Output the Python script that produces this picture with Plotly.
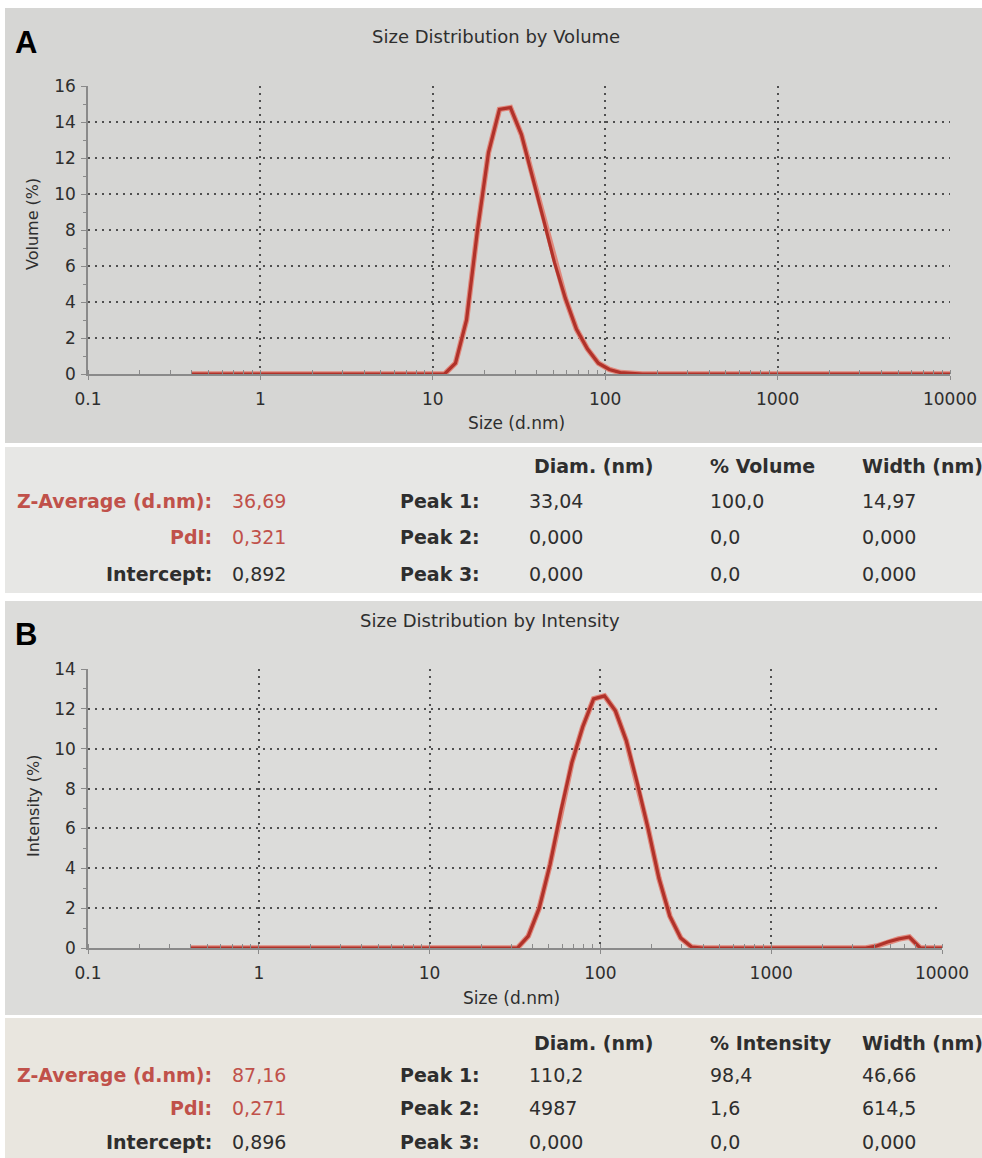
# DLS size distribution printouts (A: by volume, B: by intensity)

import plotly.graph_objects as go

W, H = 982, 1158

# ---------- data ----------
size_a = [0.4, 10.1, 11.7, 13.54, 15.69, 18.17, 21.04, 24.36, 28.21, 32.67, 37.84,
          43.82, 50.75, 58.77, 68.06, 78.82, 91.28, 105.7, 122.4, 141.8, 164.2, 10000]
volume_a = [0, 0, 0, 0.6, 3.0, 8.0, 12.3, 14.7, 14.8, 13.3, 11.0,
            8.6, 6.2, 4.2, 2.5, 1.4, 0.6, 0.25, 0.08, 0.02, 0, 0]

size_b = [0.4, 32.67, 37.84, 43.82, 50.75, 58.77, 68.06, 78.82, 91.28, 105.7, 122.4,
          141.8, 164.2, 190.1, 220.2, 255.0, 295.3, 342.0, 396.1, 3580, 4145, 4801,
          5560, 6439, 7456, 10000]
intensity_b = [0, 0, 0.6, 2.0, 4.2, 6.9, 9.3, 11.1, 12.5, 12.65, 11.9,
               10.4, 8.3, 6.0, 3.5, 1.6, 0.5, 0.05, 0, 0, 0.1, 0.3,
               0.45, 0.55, 0, 0]

x_tickvals = [0.1, 1, 10, 100, 1000, 10000]
x_ticktext = ["0.1", "1", "10", "100", "1000", "10000"]

summary_labels = ["Z-Average (d.nm):", "PdI:", "Intercept:"]
summary_a = ["36,69", "0,321", "0,892"]
summary_b = ["87,16", "0,271", "0,896"]

peak_labels = ["Peak 1:", "Peak 2:", "Peak 3:"]
headers_a = ["Diam. (nm)", "% Volume", "Width (nm)"]
headers_b = ["Diam. (nm)", "% Intensity", "Width (nm)"]
diam_a = ["33,04", "0,000", "0,000"]
pct_a = ["100,0", "0,0", "0,0"]
width_a = ["14,97", "0,000", "0,000"]
diam_b = ["110,2", "4987", "0,000"]
pct_b = ["98,4", "1,6", "0,0"]
width_b = ["46,66", "614,5", "0,000"]

# ---------- styling ----------
FONT = "DejaVu Sans"
RED_TXT = "#c0514a"
DARK = "#2e2e2e"
LINE_RED = "#b0322a"
HALO = "#e0887c"
GRID = "#4f4f4f"


def fx(x):
    return x / W


def fy(y):
    return 1 - y / H


fig = go.Figure()

# curves (light halo + main line, like the printed trace)
for xs, ys, xa, ya in [(size_a, volume_a, "x", "y"), (size_b, intensity_b, "x2", "y2")]:
    fig.add_trace(go.Scatter(x=xs, y=ys, mode="lines", xaxis=xa, yaxis=ya,
                             line=dict(color=HALO, width=5.5), hoverinfo="skip",
                             showlegend=False))
    fig.add_trace(go.Scatter(x=xs, y=ys, mode="lines", xaxis=xa, yaxis=ya,
                             line=dict(color=LINE_RED, width=3.2),
                             showlegend=False))

xcommon = dict(
    type="log", range=[-1, 4], tickvals=x_tickvals, ticktext=x_ticktext,
    showgrid=True, gridcolor=GRID, griddash="2px,5px", gridwidth=1.5,
    showline=True, linecolor="#8a8a8a", linewidth=1.5, zeroline=False,
    ticks="outside", ticklen=4, tickcolor="#8a8a8a", ticklabelstandoff=5,
    minor=dict(dtick="D1", ticks="inside", ticklen=4, tickcolor="#8a8a8a", showgrid=False),
    tickfont=dict(family=FONT, size=17, color=DARK), automargin=False,
)
ycommon = dict(
    showgrid=True, gridcolor=GRID, griddash="2px,5px", gridwidth=1.5,
    showline=True, linecolor="#8a8a8a", linewidth=1.5, zeroline=False,
    ticks="outside", ticklen=5, tickcolor="#8a8a8a", dtick=2, ticklabelstandoff=2,
    minor=dict(dtick=1, ticks="outside", ticklen=3, tickcolor="#8a8a8a", showgrid=False),
    tickfont=dict(family=FONT, size=17, color=DARK), automargin=False,
)

fig.update_layout(
    width=W, height=H, autosize=False,
    margin=dict(l=0, r=0, t=0, b=0, pad=0),
    paper_bgcolor="white", plot_bgcolor="rgba(0,0,0,0)",
    xaxis=dict(xcommon, domain=[fx(88), fx(950)], anchor="y"),
    yaxis=dict(ycommon, range=[0, 16], domain=[fy(374), fy(86)], anchor="x"),
    xaxis2=dict(xcommon, domain=[fx(88), fx(942)], anchor="y2"),
    yaxis2=dict(ycommon, range=[0, 14], domain=[fy(948), fy(669)], anchor="x2"),
)

# photo-like panel backgrounds
panels = [
    (5, 8, 982, 443, "#d6d6d4"),
    (5, 447, 982, 593, "#e7e7e5"),
    (5, 601, 982, 1015, "#dcdcda"),
    (5, 1018, 982, 1158, "#e9e6df"),
]
for x0, y0, x1, y1, col in panels:
    fig.add_shape(type="rect", xref="paper", yref="paper", layer="below",
                  x0=fx(x0), x1=fx(x1), y0=fy(y1), y1=fy(y0),
                  fillcolor=col, line=dict(width=0))


def text(x, y, s, size=17, color=DARK, bold=False, anchor="center", angle=0, family=FONT):
    fig.add_annotation(x=fx(x), y=fy(y), xref="paper", yref="paper",
                       text=f"<b>{s}</b>" if bold else s, showarrow=False,
                       xanchor=anchor, yanchor="middle", textangle=angle,
                       font=dict(family=family, size=size, color=color))


# panel letters, titles, axis titles
text(26, 42, "A", size=31, color="black", bold=True, family="Liberation Sans")
text(26, 634, "B", size=31, color="black", bold=True, family="Liberation Sans")
text(496, 36, "Size Distribution by Volume", size=18)
text(490, 620, "Size Distribution by Intensity", size=18)
text(516, 423, "Size (d.nm)", size=17)
text(511, 998, "Size (d.nm)", size=17)
text(33, 224, "Volume (%)", size=16, angle=-90)
text(33, 806, "Intensity (%)", size=16, angle=-90)


# result tables
def table(summary_vals, headers, diam, pct, width, y_head, rows):
    col_x = [532, 708, 860]
    for cx, h in zip(col_x, headers):
        text(cx, y_head, h, size=19, bold=True, anchor="left")
    for i, ry in enumerate(rows):
        col = RED_TXT if i < 2 else DARK
        text(214, ry, summary_labels[i], size=19, color=col, bold=True, anchor="right")
        text(230, ry, summary_vals[i], size=19, color=col, anchor="left")
        text(482, ry, peak_labels[i], size=19, bold=True, anchor="right")
        text(527, ry, diam[i], size=19, anchor="left")
        text(708, ry, pct[i], size=19, anchor="left")
        text(860, ry, width[i], size=19, anchor="left")


table(summary_a, headers_a, diam_a, pct_a, width_a, 466, [501, 537, 574])
table(summary_b, headers_b, diam_b, pct_b, width_b, 1043, [1075, 1108, 1142])

# page has a default body margin; drop it so the figure sits at the window origin
fig.write_html("out.html", config={"displayModeBar": False},
               post_script="document.body.style.margin='0';")
